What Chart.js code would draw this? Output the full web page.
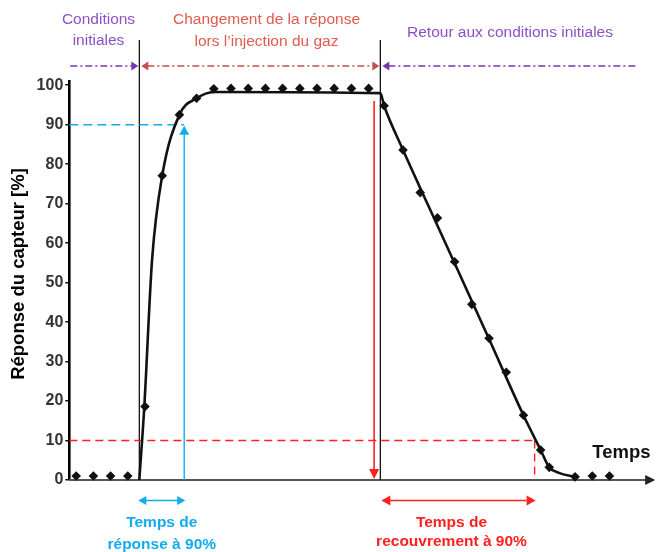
<!DOCTYPE html>
<html>
<head>
<meta charset="utf-8">
<script src="https://cdn.jsdelivr.net/npm/chart.js@4/dist/chart.umd.min.js"></script>
<style>
  html, body { margin: 0; padding: 0; background: #fff; }
  #wrap { width: 659px; height: 552px; }
</style>
</head>
<body>
<div id="wrap"><canvas id="c" width="659" height="552"></canvas></div>
<script>
// Measured sensor response (%) against time, in sampling intervals
const sampleTimes  = [0, 1, 2, 3, 4, 5, 6, 7, 8, 9, 10, 11, 12, 13, 14, 15, 16, 17,
                      17.9, 19, 20, 21, 22, 23, 24, 25, 26, 27, 27.5, 29, 30, 31];
const sampleValues = [1, 1, 1, 1, 18.6, 77.1, 92.5, 96.7, 99.1, 99.2, 99.2, 99.2, 99.2, 99.2, 99.2, 99.2, 99.2, 99.2,
                      94.8, 83.6, 72.8, 66.4, 55.3, 44.5, 35.9, 27.3, 16.4, 7.6, 3.2, 0.8, 1, 1];

// Smoothed response curve traced through the measurements
const curveTimes  = [3.67, 3.96, 4.41, 5, 6, 7, 8, 17.68, 17.9, 19, 20.5, 22, 24, 26, 27, 27.5, 28.06, 29];
const curveValues = [0, 18.6, 55.7, 77.1, 92.5, 96.7, 98.3, 98, 94.8, 83.6, 69.2, 54.9, 35.7, 16.4, 7.6, 3.2, 1.8, 0.8];

const yTicks = [0, 10, 20, 30, 40, 50, 60, 70, 80, 90, 100];

// Phases and characteristic times
const injectionStart = 3.67;
const injectionStop = 17.68;
const responseLevel = 90;      // % reached for the response time
const responseTime = 6.28;
const recoveryStartMark = 17.32;
const recoveryLevel = 10;      // % remaining at the end of the recovery time
const recoveryTime = 26.65;

const FONT = '"Liberation Sans", Arial, sans-serif';
const PURPLE_TXT = '#8c50c8', PURPLE = '#7636b0';
const ROSE_TXT = '#e05a4f', ROSE = '#c0504d';
const BLUE = '#12acee', RED = '#ff2020';

function arrowHead(ctx, x, y, angle, len, half, color) {
  ctx.save();
  ctx.translate(x, y);
  ctx.rotate(angle);
  ctx.beginPath();
  ctx.moveTo(0, 0);
  ctx.lineTo(-len, -half);
  ctx.lineTo(-len, half);
  ctx.closePath();
  ctx.fillStyle = color;
  ctx.fill();
  ctx.restore();
}

function line(ctx, x1, y1, x2, y2, color, width, dash) {
  ctx.save();
  ctx.beginPath();
  ctx.setLineDash(dash || []);
  ctx.moveTo(x1, y1);
  ctx.lineTo(x2, y2);
  ctx.strokeStyle = color;
  ctx.lineWidth = width;
  ctx.stroke();
  ctx.restore();
}

function text(ctx, str, x, y, font, color, rot) {
  ctx.save();
  ctx.font = font;
  ctx.fillStyle = color;
  ctx.textAlign = 'center';
  ctx.textBaseline = 'middle';
  ctx.translate(x, y);
  if (rot) ctx.rotate(rot);
  ctx.fillText(str, 0, 0);
  ctx.restore();
}

const annotations = {
  id: 'annotations',
  beforeDatasetsDraw(chart) {
    const { ctx, chartArea: a, scales: { x, y } } = chart;
    const y0 = y.getPixelForValue(0);

    // time axis with arrow
    line(ctx, a.left, y0, a.right - 6, y0, '#555', 2);
    arrowHead(ctx, a.right + 1, y0, 0, 10, 5, '#222');

    // phase boundaries
    const xs = x.getPixelForValue(injectionStart);
    const xe = x.getPixelForValue(injectionStop);
    line(ctx, xs, 40, xs, y0, '#000', 1.2);
    line(ctx, xe, 40, xe, y0, '#000', 1.2);

    // 90 % response time
    const xr = x.getPixelForValue(responseTime);
    const y90 = y.getPixelForValue(responseLevel);
    line(ctx, a.left, y90, xr, y90, BLUE, 1.6, [9, 5]);
    line(ctx, xr, y0, xr, y90 + 8, BLUE, 1.4);
    arrowHead(ctx, xr, y90 + 1, -Math.PI / 2, 9, 5, BLUE);

    // 90 % recovery time
    const xm = x.getPixelForValue(recoveryStartMark);
    const xc = x.getPixelForValue(recoveryTime);
    const y10 = y.getPixelForValue(recoveryLevel);
    line(ctx, xm, y.getPixelForValue(96), xm, y0 - 8, RED, 1.6);
    arrowHead(ctx, xm, y0 - 1, Math.PI / 2, 10, 5, RED);
    line(ctx, a.left, y10, xc, y10, RED, 1.4, [8, 5]);
    line(ctx, xc, y10, xc, y0, RED, 1.4, [8, 5]);
  },
  afterDraw(chart) {
    const { ctx, chartArea: a, scales: { x, y } } = chart;
    const xs = x.getPixelForValue(injectionStart);
    const xe = x.getPixelForValue(injectionStop);
    const ya = 66;
    const dash = [7, 3, 2, 3];

    // response axis name
    text(ctx, 'Réponse du capteur [%]', 19, 274, 'bold 18.5px ' + FONT, '#000', -Math.PI / 2);

    // phase arrows
    line(ctx, a.left + 1, ya, xs - 7, ya, PURPLE, 1.5, dash);
    arrowHead(ctx, xs - 1, ya, 0, 7, 4.5, PURPLE);
    line(ctx, xs + 8, ya, xe - 8, ya, ROSE, 1.5, dash);
    arrowHead(ctx, xs + 2, ya, Math.PI, 7, 4.5, ROSE);
    arrowHead(ctx, xe - 1, ya, 0, 7, 4.5, ROSE);
    line(ctx, xe + 8, ya, a.right - 17, ya, PURPLE, 1.5, dash);
    arrowHead(ctx, xe + 2, ya, Math.PI, 7, 4.5, PURPLE);

    // phase labels
    const f = '15.5px ' + FONT;
    text(ctx, 'Conditions', 98.5, 20, f, PURPLE_TXT);
    text(ctx, 'initiales', 98.5, 41, f, PURPLE_TXT);
    text(ctx, 'Changement de la réponse', 266.5, 20, f, ROSE_TXT);
    text(ctx, 'lors l\u2019injection du gaz', 266.5, 42, f, ROSE_TXT);
    text(ctx, 'Retour aux conditions initiales', 510, 33, f, PURPLE_TXT);

    // time axis name
    text(ctx, 'Temps', 621.5, 453, 'bold 18.5px ' + FONT, '#111');

    // characteristic time spans
    const yb = 500.5;
    const xr = x.getPixelForValue(responseTime);
    line(ctx, xs + 6, yb, xr - 6, yb, BLUE, 1.6);
    arrowHead(ctx, xs - 1, yb, Math.PI, 8, 4.5, BLUE);
    arrowHead(ctx, xr + 1, yb, 0, 8, 4.5, BLUE);
    const xc = x.getPixelForValue(recoveryTime);
    line(ctx, xe + 8, yb, xc - 8, yb, RED, 1.6);
    arrowHead(ctx, xe + 1, yb, Math.PI, 9, 5, RED);
    arrowHead(ctx, xc + 1, yb, 0, 9, 5, RED);

    const fb = 'bold 15.5px ' + FONT;
    text(ctx, 'Temps de', (xs + xr) / 2, 523, fb, BLUE);
    text(ctx, 'réponse à 90%', (xs + xr) / 2, 545, fb, BLUE);
    text(ctx, 'Temps de', 451.5, 523, fb, RED);
    text(ctx, 'recouvrement à 90%', 451.5, 542, fb, RED);
  }
};

new Chart(document.getElementById('c'), {
  type: 'scatter',
  data: {
    datasets: [
      {
        label: 'Mesures',
        data: sampleTimes.map((t, i) => ({ x: t, y: sampleValues[i] })),
        showLine: false,
        pointStyle: 'rectRot',
        pointRadius: 4.8,
        pointHoverRadius: 4.8,
        backgroundColor: '#111',
        borderColor: '#111',
        borderWidth: 0,
        clip: false,
        order: 1
      },
      {
        label: 'Réponse',
        data: curveTimes.map((t, i) => ({ x: t, y: curveValues[i] })),
        showLine: true,
        cubicInterpolationMode: 'monotone',
        borderColor: '#111',
        borderWidth: 2.6,
        pointRadius: 0,
        fill: false,
        clip: false,
        order: 2
      }
    ]
  },
  options: {
    responsive: false,
    animation: false,
    layout: { padding: { left: 0, right: 4, top: 81.3, bottom: 72 } },
    plugins: { legend: { display: false }, tooltip: { enabled: false } },
    scales: {
      x: { type: 'linear', display: false, min: -0.4, max: 33.6 },
      y: {
        min: 0,
        max: 101,
        afterBuildTicks: s => { s.ticks = yTicks.map(v => ({ value: v })); },
        afterFit: s => { s.width = 69.3; },
        ticks: {
          padding: 2,
          color: '#333',
          font: { family: FONT, size: 16, weight: 'bold' }
        },
        grid: { display: true, drawOnChartArea: false, drawTicks: true, tickLength: 4, color: '#111', lineWidth: 1.5 },
        border: { display: true, color: '#000', width: 2.6 },
        title: { display: false }
      }
    }
  },
  plugins: [annotations]
});
</script>
</body>
</html>
